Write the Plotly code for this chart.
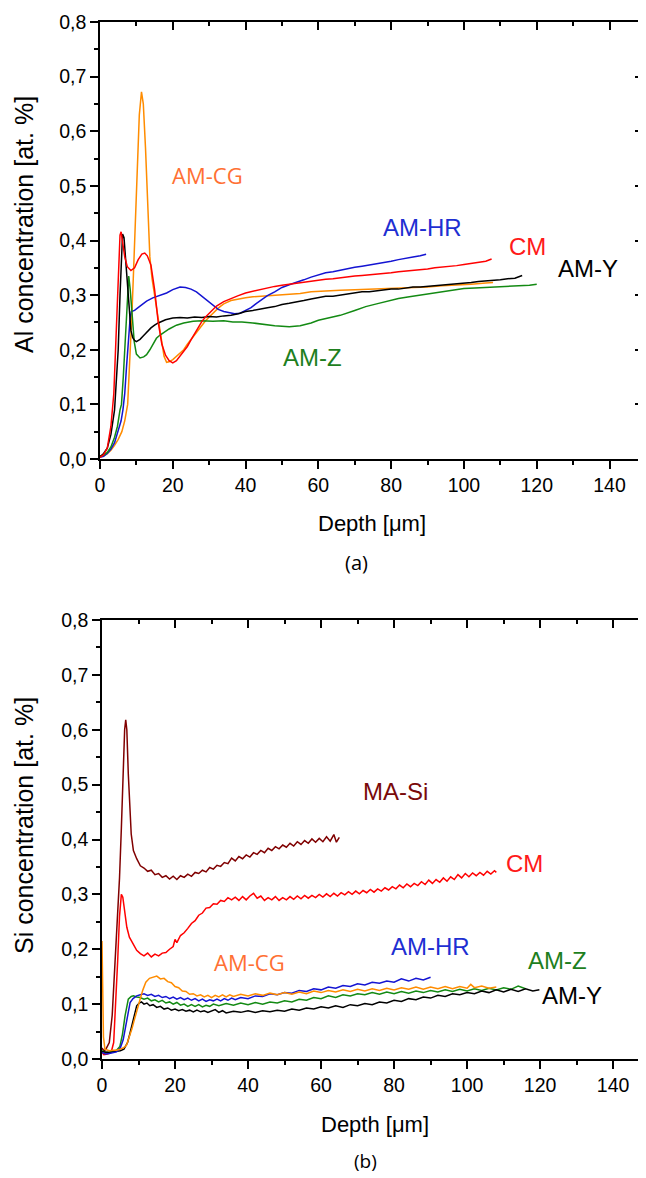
import plotly.graph_objects as go

# ---------------- data (depth in um, concentration in at.%) ----------------
al_am_y = [(0,0.004),(1,0.01),(2,0.02),(3,0.045),(4,0.09),(4.5,0.14),(5,0.2),(5.5,0.3),(6,0.395),(6.2,0.412),(6.6,0.405),(7,0.37),(7.5,0.32),(8,0.27),(8.5,0.235),(9,0.222),(9.5,0.217),(10,0.215),(11,0.219),(12,0.226),(13,0.234),(14,0.24),(15,0.245),(16,0.249),(18,0.255),(20,0.258),(22,0.259),(24,0.258),(26,0.26),(28,0.259),(30,0.261),(32,0.26),(34,0.262),(36,0.263),(38,0.266),(40,0.27),(42,0.272),(44,0.275),(46,0.277),(48,0.279),(50,0.283),(52,0.285),(54,0.287),(56,0.29),(58,0.293),(60,0.296),(62,0.298),(64,0.298),(66,0.3),(68,0.302),(70,0.305),(72,0.306),(74,0.306),(76,0.308),(78,0.31),(80,0.311),(82,0.311),(84,0.313),(86,0.315),(88,0.315),(90,0.316),(92,0.317),(94,0.318),(96,0.32),(98,0.321),(100,0.322),(102,0.323),(104,0.325),(106,0.326),(108,0.326),(110,0.328),(112,0.33),(114,0.331),(116,0.336)]
al_cm = [(0,0.003),(1,0.008),(2,0.02),(3,0.06),(3.8,0.12),(4.4,0.22),(5,0.35),(5.5,0.41),(5.8,0.416),(6.2,0.4),(6.8,0.37),(7.5,0.352),(8.5,0.345),(9.5,0.35),(10.5,0.365),(11.5,0.375),(12.3,0.377),(13,0.372),(14,0.355),(15,0.31),(16,0.25),(17,0.21),(18,0.19),(19,0.18),(20,0.176),(21,0.18),(22,0.188),(23,0.196),(24,0.206),(25,0.218),(26,0.23),(27,0.24),(28,0.252),(29,0.26),(30,0.267),(31,0.274),(32,0.28),(34,0.288),(36,0.294),(38,0.299),(40,0.304),(42,0.307),(44,0.311),(46,0.313),(48,0.316),(50,0.318),(52,0.32),(54,0.322),(56,0.324),(58,0.325),(60,0.327),(62,0.329),(64,0.33),(66,0.332),(68,0.333),(70,0.335),(72,0.336),(74,0.337),(76,0.339),(78,0.34),(80,0.341),(82,0.343),(84,0.344),(86,0.346),(88,0.347),(90,0.348),(92,0.35),(94,0.351),(96,0.353),(98,0.354),(100,0.356),(102,0.358),(104,0.36),(106,0.362),(107.6,0.366)]
al_am_cg = [(0,0.006),(1,0.006),(2,0.01),(3,0.016),(4,0.025),(5,0.036),(6,0.05),(6.8,0.07),(7.6,0.1),(8,0.15),(8.4,0.2),(8.8,0.27),(9.2,0.34),(9.7,0.44),(10.2,0.54),(10.8,0.63),(11.4,0.672),(11.9,0.65),(12.5,0.57),(13.1,0.46),(13.7,0.37),(14.3,0.33),(15,0.3),(16,0.255),(17,0.208),(17.6,0.188),(18.3,0.177),(19,0.178),(20,0.182),(21,0.188),(22,0.194),(23,0.2),(24,0.21),(25,0.219),(26,0.228),(27,0.236),(28,0.245),(29,0.253),(30,0.26),(31,0.267),(32,0.273),(33,0.279),(34,0.284),(36,0.29),(38,0.293),(40,0.295),(42,0.297),(44,0.298),(46,0.299),(48,0.3),(50,0.301),(52,0.302),(55,0.303),(58,0.306),(62,0.308),(66,0.309),(70,0.31),(74,0.311),(78,0.311),(82,0.312),(86,0.314),(90,0.315),(94,0.317),(98,0.318),(102,0.32),(106,0.322),(108,0.323)]
al_am_hr = [(0,0.003),(1,0.005),(2,0.01),(3,0.018),(4,0.03),(5,0.05),(5.8,0.07),(6.3,0.09),(6.8,0.12),(7.3,0.17),(7.8,0.22),(8.3,0.26),(8.6,0.27),(9.5,0.272),(11,0.28),(12.8,0.289),(14.5,0.295),(16.5,0.3),(18.3,0.304),(20,0.31),(22,0.315),(23.5,0.314),(25,0.311),(26.5,0.306),(28,0.298),(29.5,0.29),(31,0.281),(32.5,0.274),(34,0.27),(35.5,0.268),(37,0.266),(38.5,0.267),(40,0.272),(41.5,0.277),(43,0.285),(44.5,0.292),(46,0.299),(48,0.306),(50,0.314),(52,0.319),(54,0.323),(56,0.328),(58,0.333),(60,0.337),(62,0.341),(64,0.343),(66,0.346),(68,0.348),(70,0.351),(72,0.353),(74,0.355),(76,0.358),(78,0.36),(80,0.362),(82,0.365),(84,0.368),(86,0.37),(88,0.372),(89.6,0.375)]
al_am_z = [(0,0.004),(1,0.007),(2,0.012),(3,0.022),(4,0.04),(4.8,0.06),(5.5,0.09),(5.9,0.1),(6.4,0.15),(6.8,0.2),(7.2,0.27),(7.6,0.32),(7.9,0.335),(8.3,0.31),(8.8,0.26),(9.4,0.215),(10,0.192),(11,0.185),(12,0.187),(12.8,0.191),(13.7,0.2),(14.6,0.212),(15.5,0.221),(16.5,0.227),(17.4,0.231),(19,0.238),(21,0.245),(23,0.249),(25.6,0.252),(28,0.253),(31,0.252),(34,0.253),(36.5,0.251),(39,0.251),(42,0.249),(45,0.246),(48,0.244),(50,0.243),(52,0.242),(55,0.244),(58,0.249),(60,0.254),(63,0.258),(66,0.263),(70,0.272),(73,0.279),(76,0.284),(79,0.289),(82,0.294),(85,0.297),(88,0.3),(91,0.303),(94,0.306),(97,0.309),(100,0.312),(103,0.313),(106,0.314),(109,0.315),(112,0.316),(115,0.317),(118,0.318),(120,0.32)]

si_ma_si = [(0,0.02),(0.5,0.015),(1,0.017),(2,0.03),(2.8,0.08),(3.5,0.16),(4.2,0.25),(4.8,0.33),(5.3,0.42),(5.8,0.52),(6.2,0.6),(6.5,0.618),(6.8,0.6),(7.2,0.52),(7.6,0.45),(8,0.41),(8.6,0.38),(9.5,0.365),(10.5,0.352),(11.5,0.348),(12.5,0.342),(13.5,0.344),(14.5,0.336),(15.5,0.338),(16.5,0.331),(17.5,0.334),(18.5,0.328),(19.5,0.333),(20.5,0.327),(21.5,0.334),(22.5,0.331),(23.5,0.337),(24.5,0.333),(25.5,0.34),(26.5,0.338),(27.5,0.344),(28.5,0.341),(29.5,0.349),(30.5,0.346),(31.5,0.353),(32.5,0.351),(33.5,0.358),(34.5,0.356),(35.5,0.366),(36.5,0.361),(37.5,0.369),(38.5,0.365),(39.5,0.372),(40.5,0.368),(41.5,0.376),(42.5,0.373),(43.5,0.38),(44.5,0.376),(45.5,0.384),(46.5,0.38),(47.5,0.387),(48.5,0.383),(49.5,0.39),(50.5,0.386),(51.5,0.393),(52.5,0.388),(53.5,0.396),(54.5,0.391),(55.5,0.398),(56.5,0.393),(57.5,0.401),(58.5,0.395),(59.5,0.402),(60.5,0.396),(61.5,0.405),(62.5,0.397),(63.5,0.409),(64.2,0.395),(65,0.404)]
si_cm = [(0,0.012),(0.5,0.008),(1.5,0.009),(2.5,0.012),(3.2,0.03),(3.8,0.1),(4.3,0.18),(4.8,0.26),(5.3,0.3),(5.7,0.295),(6.2,0.265),(6.8,0.24),(7.5,0.222),(8.5,0.21),(9.5,0.198),(10.5,0.192),(11.5,0.188),(12.5,0.193),(13.5,0.186),(14.5,0.191),(15.5,0.188),(16.5,0.193),(17.5,0.194),(18.5,0.2),(19.5,0.205),(20,0.218),(20.5,0.212),(21.5,0.225),(22.5,0.23),(23.5,0.238),(24.5,0.247),(25.5,0.252),(26.5,0.262),(27.5,0.266),(28.5,0.275),(29.5,0.276),(30.5,0.283),(31.5,0.282),(32.5,0.289),(33.5,0.287),(34.5,0.294),(35.5,0.29),(36.5,0.295),(37.5,0.289),(38.5,0.296),(39.5,0.29),(40.5,0.297),(41.5,0.302),(42.5,0.293),(43.5,0.297),(44.5,0.289),(45.5,0.294),(46.5,0.29),(47.5,0.296),(48.5,0.289),(49.5,0.294),(50.5,0.29),(51.5,0.296),(52.5,0.291),(53.5,0.297),(54.5,0.292),(55.5,0.298),(56.5,0.293),(57.5,0.298),(58.5,0.294),(59.5,0.3),(60.5,0.295),(61.5,0.301),(62.5,0.296),(63.5,0.302),(64.5,0.297),(65.5,0.303),(66.5,0.299),(67.5,0.305),(68.5,0.3),(69.5,0.306),(70.5,0.301),(71.5,0.307),(72.5,0.303),(73.5,0.309),(74.5,0.304),(75.5,0.31),(76.5,0.306),(77.5,0.312),(78.5,0.308),(79.5,0.314),(80.5,0.31),(81.5,0.317),(82.5,0.312),(83.5,0.319),(84.5,0.314),(85.5,0.32),(86.5,0.316),(87.5,0.323),(88.5,0.318),(89.5,0.326),(90.5,0.32),(91.5,0.327),(92.5,0.322),(93.5,0.33),(94.5,0.324),(95.5,0.332),(96.5,0.327),(97.5,0.336),(98.5,0.33),(99.5,0.338),(100.5,0.332),(101.5,0.339),(102.5,0.334),(103.5,0.34),(104.5,0.335),(105.5,0.342),(106.5,0.337),(107.5,0.343),(108,0.34)]
si_am_cg = [(0,0.215),(0.2,0.12),(0.4,0.04),(0.8,0.018),(2,0.015),(3,0.016),(4,0.016),(5,0.018),(5.8,0.02),(6.7,0.025),(7.5,0.04),(8.2,0.055),(8.8,0.07),(9.5,0.088),(10.4,0.108),(11.2,0.126),(12,0.14),(13,0.147),(14,0.149),(15,0.151),(16,0.146),(17,0.147),(18,0.141),(19,0.139),(20,0.132),(21,0.13),(22,0.124),(23,0.123),(24,0.118),(25,0.119),(26,0.115),(27,0.117),(28,0.113),(29,0.116),(30,0.112),(31,0.116),(32,0.113),(33,0.117),(34,0.113),(35,0.117),(36,0.114),(38,0.118),(40,0.115),(42,0.119),(44,0.116),(46,0.12),(48,0.117),(50,0.121),(52,0.118),(54,0.122),(56,0.119),(58,0.124),(60,0.121),(62,0.125),(64,0.122),(66,0.126),(68,0.123),(70,0.127),(72,0.124),(74,0.128),(76,0.125),(78,0.129),(80,0.126),(82,0.13),(84,0.127),(86,0.131),(88,0.127),(90,0.131),(92,0.128),(94,0.132),(96,0.128),(98,0.132),(100,0.129),(101,0.136),(102,0.13),(104,0.133),(106,0.129),(108,0.131)]
si_am_hr = [(0,0.012),(1,0.009),(2,0.01),(3,0.011),(4,0.013),(5,0.02),(5.8,0.035),(6.5,0.06),(7.2,0.09),(7.7,0.103),(8.5,0.11),(9.5,0.115),(10.5,0.117),(11.5,0.119),(12.5,0.116),(13.5,0.118),(14.5,0.114),(15.5,0.116),(16.5,0.112),(17.5,0.114),(18.5,0.11),(19.5,0.113),(20.5,0.109),(21.5,0.112),(22.5,0.108),(23.5,0.111),(24.5,0.107),(25.5,0.11),(26.5,0.106),(27.5,0.109),(28.5,0.105),(29.5,0.108),(30.5,0.106),(31.5,0.109),(32.5,0.106),(33.5,0.11),(34.5,0.107),(35.5,0.111),(36.5,0.108),(38,0.112),(40,0.11),(42,0.115),(44,0.114),(46,0.119),(48,0.117),(50,0.121),(52,0.12),(54,0.125),(56,0.123),(58,0.128),(60,0.126),(62,0.131),(64,0.129),(66,0.134),(68,0.132),(70,0.137),(72,0.135),(74,0.14),(76,0.138),(78,0.142),(80,0.14),(82,0.146),(84,0.142),(86,0.147),(88,0.144),(90,0.149)]
si_am_z = [(0,0.015),(1,0.012),(2,0.013),(3,0.014),(4,0.016),(4.9,0.023),(5.6,0.045),(6.3,0.078),(6.8,0.098),(7.2,0.109),(8,0.114),(8.6,0.115),(9.5,0.113),(10.4,0.112),(11.5,0.109),(12.5,0.111),(13.5,0.106),(14.5,0.108),(15.5,0.104),(16.5,0.107),(17.5,0.102),(18.5,0.104),(19.5,0.1),(20.5,0.103),(21.5,0.098),(22.5,0.1),(23.5,0.096),(24.5,0.099),(25.5,0.096),(26.5,0.099),(27.5,0.095),(28.5,0.098),(29.5,0.096),(30.5,0.1),(32,0.097),(34,0.101),(36,0.098),(38,0.102),(40,0.099),(42,0.103),(44,0.1),(46,0.104),(48,0.102),(50,0.106),(52,0.104),(54,0.109),(56,0.107),(58,0.112),(60,0.11),(62,0.115),(64,0.112),(66,0.117),(68,0.115),(70,0.119),(72,0.117),(74,0.121),(76,0.118),(78,0.122),(80,0.119),(82,0.123),(84,0.12),(86,0.124),(88,0.121),(90,0.125),(92,0.122),(94,0.126),(96,0.123),(98,0.127),(100,0.124),(102,0.128),(104,0.125),(106,0.129),(108,0.126),(110,0.13),(112,0.127),(114,0.133),(116,0.128)]
si_am_y = [(0,0.013),(1,0.012),(2,0.012),(3,0.013),(4,0.014),(5,0.015),(6,0.018),(7,0.03),(7.6,0.045),(8.1,0.06),(8.8,0.08),(9.5,0.097),(10.2,0.102),(10.8,0.104),(11.5,0.1),(12.3,0.102),(13.1,0.097),(14,0.099),(15,0.094),(16,0.096),(17,0.091),(18,0.093),(19,0.089),(20,0.091),(21,0.088),(22,0.09),(23,0.087),(24,0.089),(25,0.086),(26,0.089),(27,0.086),(28,0.088),(29,0.085),(30,0.088),(31,0.09),(32,0.085),(33,0.088),(34,0.084),(36,0.087),(38,0.085),(40,0.088),(42,0.085),(44,0.088),(46,0.086),(48,0.089),(50,0.087),(52,0.091),(54,0.089),(56,0.093),(58,0.091),(60,0.095),(62,0.093),(64,0.097),(66,0.094),(68,0.099),(70,0.097),(72,0.101),(74,0.099),(76,0.104),(78,0.102),(80,0.107),(82,0.105),(84,0.11),(86,0.108),(88,0.113),(90,0.111),(92,0.116),(94,0.114),(96,0.119),(98,0.117),(100,0.121),(102,0.119),(104,0.124),(106,0.121),(108,0.126),(110,0.122),(112,0.127),(114,0.123),(116,0.128),(118,0.124),(119.8,0.126)]

C_BLACK = "#000000"
C_RED = "#ff0000"
C_BLUE = "#1414d2"
C_GREEN = "#138a13"
C_ORANGE = "#ff8c00"
C_DARKRED = "#800000"

top_series = [(al_am_cg, C_ORANGE), (al_am_hr, C_BLUE), (al_am_z, C_GREEN), (al_am_y, C_BLACK), (al_cm, C_RED)]
bot_series = [(si_ma_si, C_DARKRED), (si_cm, C_RED), (si_am_z, C_GREEN), (si_am_y, C_BLACK), (si_am_hr, C_BLUE), (si_am_cg, C_ORANGE)]

fig = go.Figure()
for data, col in top_series:
    fig.add_trace(go.Scatter(x=[p[0] for p in data], y=[p[1] for p in data], mode="lines",
                             line=dict(color=col, width=1.5), xaxis="x", yaxis="y", showlegend=False))
for data, col in bot_series:
    fig.add_trace(go.Scatter(x=[p[0] for p in data], y=[p[1] for p in data], mode="lines",
                             line=dict(color=col, width=1.5), xaxis="x2", yaxis="y2", showlegend=False))
# empty traces so mirror axes are drawn
fig.add_trace(go.Scatter(x=[None], y=[None], xaxis="x3", yaxis="y3", showlegend=False, hoverinfo="skip"))
fig.add_trace(go.Scatter(x=[None], y=[None], xaxis="x4", yaxis="y4", showlegend=False, hoverinfo="skip"))

OFF = 8  # page body margin
W, H = 646 - OFF, 1178 - OFF
ML, MR, MT = 100 - OFF, 0, 22 - OFF
MB = H - (1059 - OFF)
PW, PH = W - ML - MR, H - MT - MB
XR_TOP = [0, 149.2]
XR_BOT = [0, 149]
TICKFONT = dict(family="Liberation Sans, Arial, sans-serif", size=19.5, color="black")

def xax(dom, rng, anchor, **kw):
    d = dict(domain=dom, range=rng, anchor=anchor, dtick=20, tick0=0, ticks="outside", ticklen=8,
             tickwidth=1.5, tickcolor="black", showline=True, linewidth=1.5, linecolor="black",
             showgrid=False, zeroline=False, tickfont=TICKFONT,
             minor=dict(dtick=10, ticks="outside", ticklen=4, tickwidth=1.5, tickcolor="black", showgrid=False))
    d.update(kw)
    return d

def yax(dom, anchor, **kw):
    d = dict(domain=dom, range=[0, 0.8], anchor=anchor, dtick=0.1, tick0=0, tickformat=".1f",
             ticks="outside", ticklen=8, tickwidth=1.5, tickcolor="black", showline=True, linewidth=1.5,
             linecolor="black", showgrid=False, zeroline=False, tickfont=TICKFONT,
             minor=dict(dtick=0.05, ticks="outside", ticklen=4, tickwidth=1.5, tickcolor="black", showgrid=False))
    d.update(kw)
    return d

def fy(py):
    # page y (px) -> paper fraction
    return (H - MB - (py - OFF)) / PH

def fx(px):
    return (px - OFF - ML) / PW

top_ydom = [fy(459), 1.0]
bot_ydom = [0.0, fy(620)]
top_xdom = [0.0, fx(643)]
bot_xdom = [fx(102), 1.0]

inside_minor_x = dict(dtick=10, ticks="inside", ticklen=4, tickwidth=1.5, tickcolor="black", showgrid=False)
inside_minor_y = dict(dtick=0.05, ticks="inside", ticklen=4, tickwidth=1.5, tickcolor="black", showgrid=False)

fig.update_layout(
    width=W, height=H, margin=dict(l=ML, r=MR, t=MT, b=MB, pad=0),
    paper_bgcolor="white", plot_bgcolor="white", separators=",.",
    xaxis=xax(top_xdom, XR_TOP, "y"),
    yaxis=yax(top_ydom, "x"),
    xaxis2=xax(bot_xdom, XR_BOT, "y2"),
    yaxis2=yax(bot_ydom, "x2"),
    xaxis3=xax(top_xdom, XR_TOP, "y3", overlaying="x", side="top", ticks="inside", showticklabels=False,
               minor=inside_minor_x),
    yaxis3=yax(top_ydom, "x3", overlaying="y", side="right", ticks="inside", showticklabels=False,
               minor=inside_minor_y),
    xaxis4=xax(bot_xdom, XR_BOT, "y4", overlaying="x2", side="top", ticks="inside", showticklabels=False,
               minor=inside_minor_x),
    yaxis4=yax(bot_ydom, "x4", overlaying="y2", side="right", ticks="inside", showticklabels=False,
               showline=False, ticklen=5,
               minor=dict(dtick=0.05, ticks="inside", ticklen=2, tickwidth=1.5, tickcolor="black", showgrid=False)),
)

ARIAL = "Liberation Sans, Arial, sans-serif"
OPEN = "Open Sans, sans-serif"
labels = [
    ("AM-CG", 207, 175, "#ff7033", OPEN, 22),
    ("AM-HR", 422, 227, "#1e2fd2", ARIAL, 24),
    ("CM", 527, 247, "#ff1a1a", ARIAL, 24),
    ("AM-Y", 588, 269, "#000000", ARIAL, 24),
    ("AM-Z", 312, 357, "#1e7f1e", ARIAL, 24),
    ("MA-Si", 395, 791, "#7a0a0a", ARIAL, 24),
    ("CM", 524, 863, "#ff1a1a", ARIAL, 24),
    ("AM-HR", 430, 946, "#1e2fd2", ARIAL, 24),
    ("AM-Z", 557, 960, "#1e7f1e", ARIAL, 24),
    ("AM-Y", 572, 995, "#000000", ARIAL, 24),
    ("AM-CG", 249, 962, "#ff7033", OPEN, 22),
    ("Depth [μm]", 372, 523, "black", ARIAL, 22),
    ("Depth [μm]", 375, 1124, "black", ARIAL, 22),
    ("(a)", 356, 562, "black", OPEN, 20),
    ("(b)", 365, 1161, "black", OPEN, 19),
]
for text, px, py, col, fam, sz in labels:
    fig.add_annotation(text=text, x=fx(px), y=fy(py), xref="paper", yref="paper", showarrow=False,
                       xanchor="center", yanchor="middle", font=dict(family=fam, size=sz, color=col))

for text, py in [("Al concentration [at. %]", 225), ("Si concentration [at. %]", 826)]:
    fig.add_annotation(text=text, x=fx(24), y=fy(py), xref="paper", yref="paper", showarrow=False, textangle=-90,
                       xanchor="center", yanchor="middle", font=dict(family=ARIAL, size=25, color="black"))

fig.write_html("out.html")
